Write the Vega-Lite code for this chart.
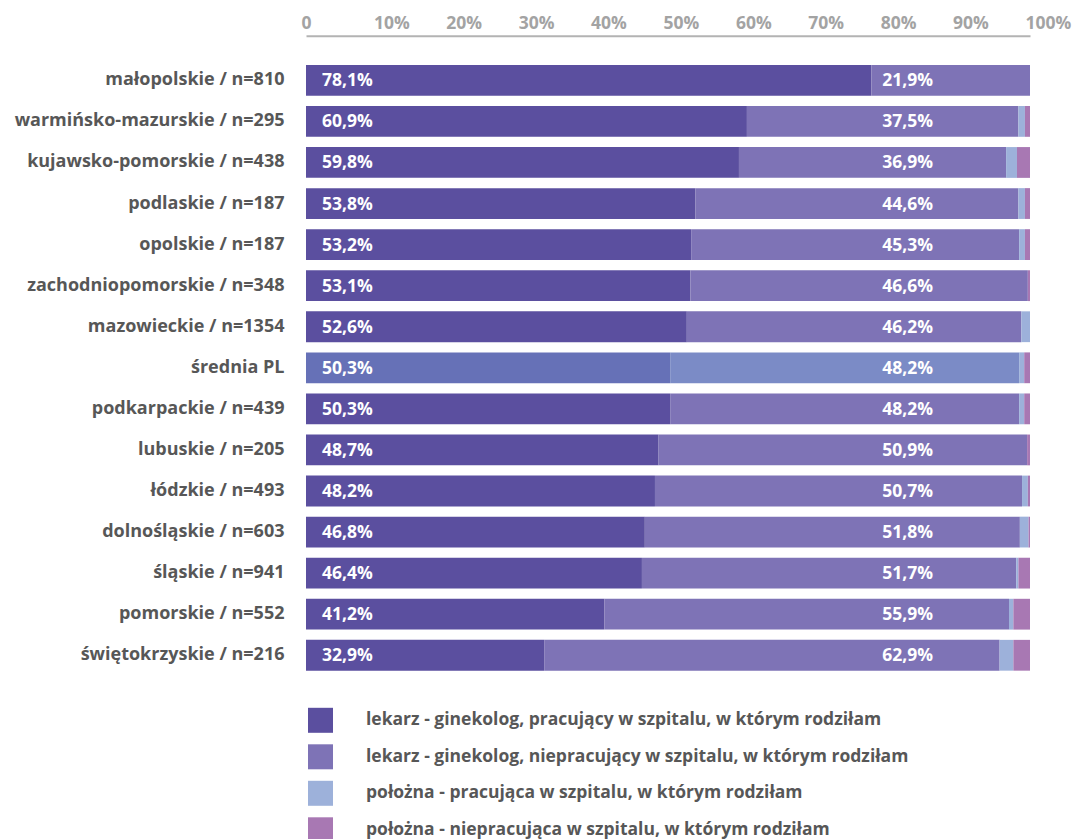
{
  "$schema": "https://vega.github.io/schema/vega-lite/v6.json",
  "autosize": {"type": "none"},
  "width": 724,
  "height": 616,
  "padding": {"left": 306, "top": 59.8, "right": 42, "bottom": 163.2},
  "background": "white",
  "config": {
    "view": {"stroke": null},
    "font": "Open Sans",
    "locale": {
      "number": {"decimal": ",", "thousands": " ", "grouping": [3], "currency": ["", "%"]}
    }
  },
  "data": {
    "values": [
      {"region": "małopolskie / n=810", "cat": "p1", "v": 78.1},
      {"region": "małopolskie / n=810", "cat": "p2", "v": 21.9},
      {"region": "warmińsko-mazurskie / n=295", "cat": "p1", "v": 60.9},
      {"region": "warmińsko-mazurskie / n=295", "cat": "p2", "v": 37.5},
      {"region": "warmińsko-mazurskie / n=295", "cat": "p3", "v": 0.9},
      {"region": "warmińsko-mazurskie / n=295", "cat": "p4", "v": 0.7},
      {"region": "kujawsko-pomorskie / n=438", "cat": "p1", "v": 59.8},
      {"region": "kujawsko-pomorskie / n=438", "cat": "p2", "v": 36.9},
      {"region": "kujawsko-pomorskie / n=438", "cat": "p3", "v": 1.5},
      {"region": "kujawsko-pomorskie / n=438", "cat": "p4", "v": 1.8},
      {"region": "podlaskie / n=187", "cat": "p1", "v": 53.8},
      {"region": "podlaskie / n=187", "cat": "p2", "v": 44.6},
      {"region": "podlaskie / n=187", "cat": "p3", "v": 0.9},
      {"region": "podlaskie / n=187", "cat": "p4", "v": 0.7},
      {"region": "opolskie / n=187", "cat": "p1", "v": 53.2},
      {"region": "opolskie / n=187", "cat": "p2", "v": 45.3},
      {"region": "opolskie / n=187", "cat": "p3", "v": 0.8},
      {"region": "opolskie / n=187", "cat": "p4", "v": 0.7},
      {"region": "zachodniopomorskie / n=348", "cat": "p1", "v": 53.1},
      {"region": "zachodniopomorskie / n=348", "cat": "p2", "v": 46.6},
      {"region": "zachodniopomorskie / n=348", "cat": "p4", "v": 0.3},
      {"region": "mazowieckie / n=1354", "cat": "p1", "v": 52.6},
      {"region": "mazowieckie / n=1354", "cat": "p2", "v": 46.2},
      {"region": "mazowieckie / n=1354", "cat": "p3", "v": 1.2},
      {"region": "średnia PL", "cat": "p1", "v": 50.3},
      {"region": "średnia PL", "cat": "p2", "v": 48.2},
      {"region": "średnia PL", "cat": "p3", "v": 0.7},
      {"region": "średnia PL", "cat": "p4", "v": 0.8},
      {"region": "podkarpackie / n=439", "cat": "p1", "v": 50.3},
      {"region": "podkarpackie / n=439", "cat": "p2", "v": 48.2},
      {"region": "podkarpackie / n=439", "cat": "p3", "v": 0.7},
      {"region": "podkarpackie / n=439", "cat": "p4", "v": 0.8},
      {"region": "lubuskie / n=205", "cat": "p1", "v": 48.7},
      {"region": "lubuskie / n=205", "cat": "p2", "v": 50.9},
      {"region": "lubuskie / n=205", "cat": "p4", "v": 0.4},
      {"region": "łódzkie / n=493", "cat": "p1", "v": 48.2},
      {"region": "łódzkie / n=493", "cat": "p2", "v": 50.7},
      {"region": "łódzkie / n=493", "cat": "p3", "v": 0.8},
      {"region": "łódzkie / n=493", "cat": "p4", "v": 0.3},
      {"region": "dolnośląskie / n=603", "cat": "p1", "v": 46.8},
      {"region": "dolnośląskie / n=603", "cat": "p2", "v": 51.8},
      {"region": "dolnośląskie / n=603", "cat": "p3", "v": 1.2},
      {"region": "dolnośląskie / n=603", "cat": "p4", "v": 0.2},
      {"region": "śląskie / n=941", "cat": "p1", "v": 46.4},
      {"region": "śląskie / n=941", "cat": "p2", "v": 51.7},
      {"region": "śląskie / n=941", "cat": "p3", "v": 0.3},
      {"region": "śląskie / n=941", "cat": "p4", "v": 1.6},
      {"region": "pomorskie / n=552", "cat": "p1", "v": 41.2},
      {"region": "pomorskie / n=552", "cat": "p2", "v": 55.9},
      {"region": "pomorskie / n=552", "cat": "p3", "v": 0.6},
      {"region": "pomorskie / n=552", "cat": "p4", "v": 2.3},
      {"region": "świętokrzyskie / n=216", "cat": "p1", "v": 32.9},
      {"region": "świętokrzyskie / n=216", "cat": "p2", "v": 62.9},
      {"region": "świętokrzyskie / n=216", "cat": "p3", "v": 1.9},
      {"region": "świętokrzyskie / n=216", "cat": "p4", "v": 2.3}
    ]
  },
  "encoding": {
    "y": {
      "field": "region",
      "type": "nominal",
      "sort": null,
      "scale": {"paddingInner": 0.25, "paddingOuter": 0.125},
      "axis": {
        "title": null,
        "domain": false,
        "ticks": false,
        "labelPadding": 22,
        "labelFontSize": 18,
        "labelFontWeight": "bold",
        "labelColor": "#575757",
        "labelLimit": 0
      }
    }
  },
  "layer": [
    {
      "mark": {"type": "bar"},
      "encoding": {
        "x": {
          "field": "v",
          "type": "quantitative",
          "stack": "zero",
          "scale": {"domain": [0, 100], "nice": false},
          "axis": {
            "orient": "top",
            "title": null,
            "values": [0, 10, 20, 30, 40, 50, 60, 70, 80, 90, 100],
            "labelExpr": "datum.value == 0 ? '0' : datum.value + '%'",
            "grid": false,
            "ticks": false,
            "offset": 24,
            "domainColor": "#b3b3b3",
            "domainWidth": 2,
            "labelAlign": "left",
            "labelOffset": -5,
            "labelPadding": 3,
            "labelColor": "#a3a3a3",
            "labelFontSize": 17.5,
            "labelFontWeight": "bold",
            "labelFlush": false,
            "labelOverlap": false
          }
        },
        "order": {"field": "cat", "sort": "ascending"},
        "color": {
          "field": "cat",
          "type": "nominal",
          "scale": {
            "domain": ["p1", "p2", "p3", "p4"],
            "range": ["#5b4f9f", "#7e73b6", "#9db1da", "#a878b3"]
          },
          "condition": [
            {"test": "datum.region === 'średnia PL' && datum.cat === 'p1'", "value": "#6671b7"},
            {"test": "datum.region === 'średnia PL' && datum.cat === 'p2'", "value": "#7b8bc6"}
          ],
          "legend": {
            "title": null,
            "orient": "none",
            "legendX": 2,
            "legendY": 648,
            "direction": "vertical",
            "padding": 0,
            "symbolType": "square",
            "symbolSize": 625,
            "symbolStrokeWidth": 0,
            "symbolOpacity": 1,
            "labelOffset": 33,
            "rowPadding": 11.5,
            "labelFontSize": 17.5,
            "labelFontWeight": "bold",
            "labelColor": "#575757",
            "labelLimit": 0,
            "labelExpr": "{'p1': 'lekarz - ginekolog, pracujący w szpitalu, w którym rodziłam', 'p2': 'lekarz - ginekolog, niepracujący w szpitalu, w którym rodziłam', 'p3': 'położna - pracująca w szpitalu, w którym rodziłam', 'p4': 'położna - niepracująca w szpitalu, w którym rodziłam'}[datum.label]"
          }
        }
      }
    },
    {
      "transform": [{"filter": "datum.cat === 'p1'"}],
      "mark": {"type": "text", "align": "left", "baseline": "middle", "color": "white", "fontSize": 17.5, "fontWeight": "bold", "dy": 1},
      "encoding": {
        "x": {"datum": 2.2, "type": "quantitative"},
        "text": {"field": "v", "type": "quantitative", "format": "$.1f"}
      }
    },
    {
      "transform": [{"filter": "datum.cat === 'p2'"}],
      "mark": {"type": "text", "align": "left", "baseline": "middle", "color": "white", "fontSize": 17.5, "fontWeight": "bold", "dy": 1},
      "encoding": {
        "x": {"datum": 79.6, "type": "quantitative"},
        "text": {"field": "v", "type": "quantitative", "format": "$.1f"}
      }
    }
  ]
}
